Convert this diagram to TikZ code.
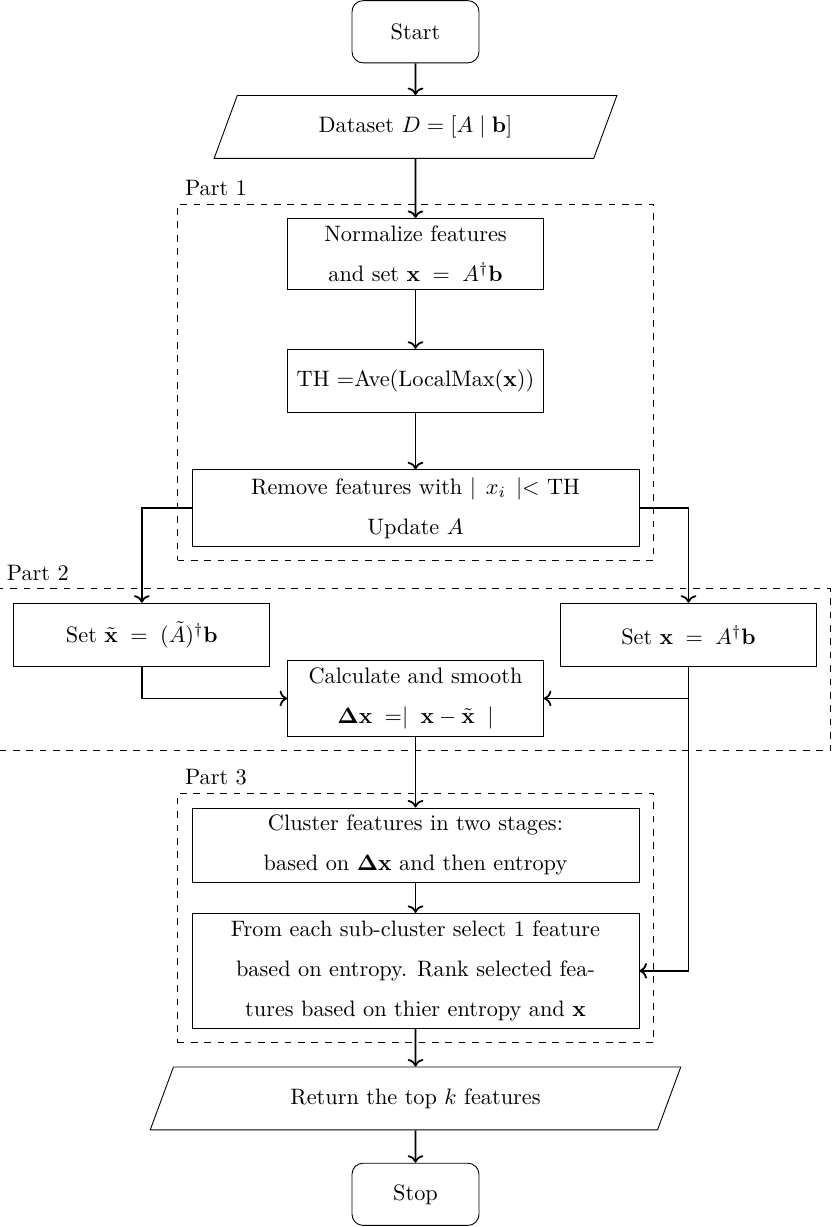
\documentclass[tikz,border=0pt]{standalone}
\usepackage{amsmath}
\usepackage{amssymb}
\usepackage{tikz}
\usetikzlibrary{arrows.meta,positioning,fit,calc,shapes.geometric}

\begin{document}
\begin{tikzpicture}[
  process/.style={draw, align=center, font=\linespread{1.5}\selectfont,
                  minimum width=4.03cm, minimum height=1.0cm, inner sep=3pt},
  wideproc/.style={process, minimum width=7.04cm},
  terminal/.style={draw, rounded corners=5pt,
                   minimum width=2cm, minimum height=0.98cm},
  io/.style={draw, trapezium, trapezium left angle=70,
             trapezium right angle=110, trapezium stretches=true,
             minimum height=0.99cm},
  part/.style={draw, dashed, inner sep=0.22cm},
  partlabel/.style={anchor=south west},
  flow/.style={-{Computer Modern Rightarrow}, thick},
]

\useasboundingbox (-6.544,0) rectangle (6.544,-19.325);

% Main column
\node[terminal] (start) at (0,-0.5) {Start};
\node[io, minimum width=6.35cm] (data) at (0,-2.0)
  {Dataset $D=[A \mid \mathbf{b}]$};
\node[process, minimum height=1.12cm] (norm) at (0,-4.0)
  {Normalize features\\and set $\mathbf{x} \;=\; A^{\dagger}\mathbf{b}$};
\node[process] (th) at (0,-6.0) {TH =Ave(LocalMax($\mathbf{x}$))};
\node[wideproc, minimum height=1.2cm] (remove) at (0,-8.0)
  {Remove features with $\mid\, x_i \,\mid<$ TH\\Update $A$};

% Two estimates
\node[process] (setxt) at (-4.31,-10.0)
  {Set $\tilde{\mathbf{x}} \;=\; (\tilde{A})^{\dagger}\mathbf{b}$};
\node[process] (setx) at (4.30,-10.0)
  {Set $\mathbf{x} \;=\; A^{\dagger}\mathbf{b}$};
\node[process, minimum height=1.2cm] (calc) at (0,-11.0)
  {Calculate and smooth\\$\mathbf{\Delta x} \;=\mid\; \mathbf{x} - \tilde{\mathbf{x}} \;\mid$};

% Clustering and output
\node[wideproc, minimum height=1.17cm] (cluster) at (0,-13.31)
  {Cluster features in two stages:\\based on $\mathbf{\Delta x}$ and then entropy};
\node[wideproc, minimum height=1.81cm] (select) at (0,-15.29)
  {From each sub-cluster select 1 feature\\based on entropy. Rank selected fea-\\tures based on thier entropy and $\mathbf{x}$};
\node[io, minimum width=8.36cm] (ret) at (0,-17.3)
  {Return the top $k$ features};
\node[terminal] (stop) at (0,-18.81) {Stop};

% Parts
\node[part, fit=(norm)(remove)] (part1) {};
\node[partlabel] (lab1) at (part1.north west) {Part 1};
\node[part, fit=(setxt)(setx)(calc)] (part2) {};
\node[partlabel] (lab2) at (part2.north west) {Part 2};
\node[part, fit=(cluster)(select)] (part3) {};
\node[partlabel] (lab3) at (part3.north west) {Part 3};

% Arrows
\draw[flow] (start) -- (data);
\draw[flow] (data) -- (norm);
\draw[flow] (norm) -- (th);
\draw[flow] (th) -- (remove);
\draw[flow] (remove.west) -| (setxt.north);
\draw[flow] (remove.east) -| (setx.north);
\draw[flow] (setxt.south) |- (calc.west);
\draw[flow] (setx.south) |- (calc.east);
\draw[flow] (setx.south) |- (select.east);
\draw[flow] (calc) -- (cluster);
\draw[flow] (cluster) -- (select);
\draw[flow] (select) -- (ret);
\draw[flow] (ret) -- (stop);

\end{tikzpicture}
\end{document}
